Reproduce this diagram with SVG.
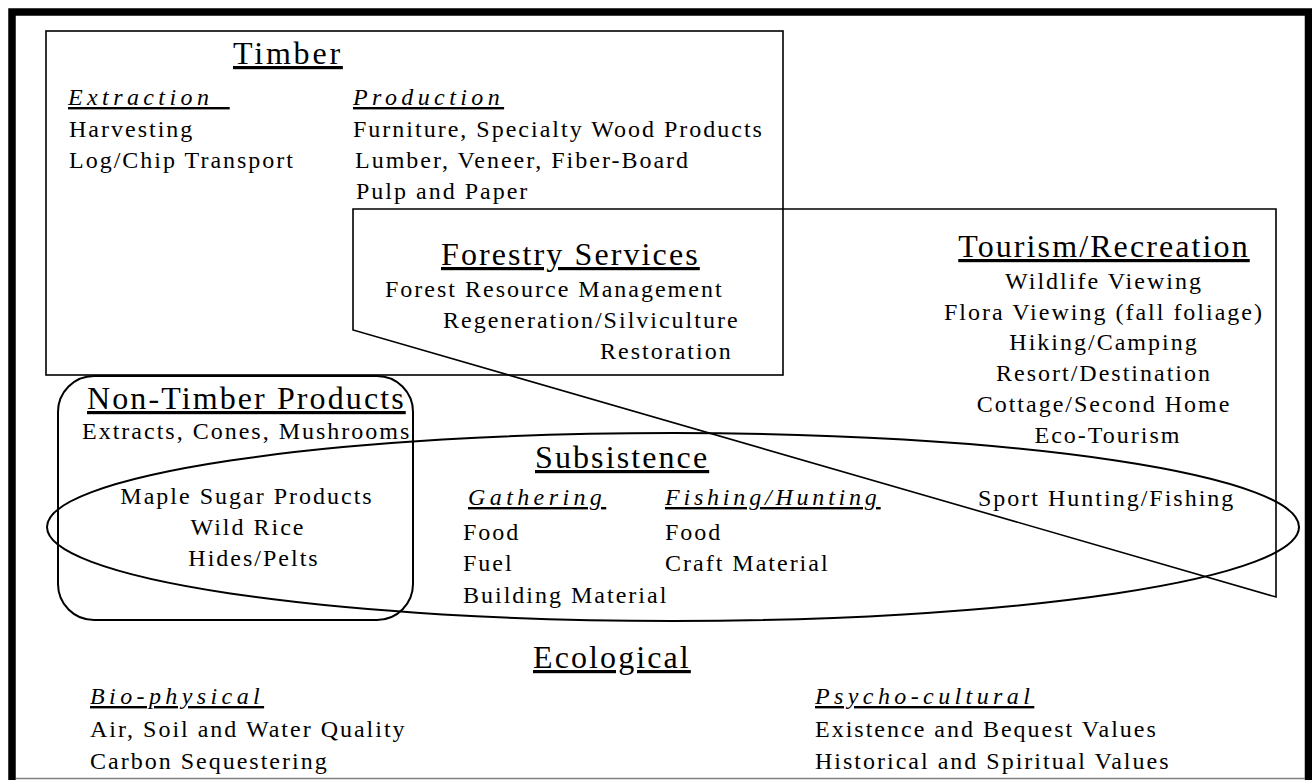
<svg xmlns="http://www.w3.org/2000/svg" width="1312" height="780" viewBox="0 0 1312 780">
  <style>
    text { font-family: "Liberation Serif", "Times New Roman", serif; fill: #000; }
    .head { font-size: 32px; letter-spacing: 2.1px; text-decoration: underline; }
    .sub { font-size: 24px; font-style: italic; letter-spacing: 4.4px; text-decoration: underline; }
    .item { font-size: 24px; letter-spacing: 2px; }
    .mid { text-anchor: middle; }
    .shape { fill: none; stroke: #000; stroke-width: 1.6; }
    .oval { fill: none; stroke: #000; stroke-width: 2; }
  </style>

  <rect width="1312" height="780" fill="#fff"/>

  <!-- outer frame, open at the bottom -->
  <path d="M12,784 V12 H1308.5 V784" fill="none" stroke="#000" stroke-width="7.5" stroke-linejoin="miter"/>
  <line x1="16" y1="778.5" x2="1305" y2="778.5" stroke="#808080" stroke-width="1.5"/>

  <!-- outlines of the overlapping sectors -->
  <g id="connectors">
    <rect id="timber-box" class="shape" x="46" y="31" width="737" height="344"/>
    <polygon id="services-box" class="shape" points="353,209 1276,209 1276,597 353,330"/>
    <rect id="nontimber-box" class="oval" x="58" y="376" width="355" height="244" rx="36" ry="36"/>
    <ellipse id="subsistence-oval" class="oval" cx="673" cy="527" rx="626" ry="94"/>
  </g>

  <g id="timber">
    <text class="head" x="233" y="64" style="letter-spacing:2.8px">Timber</text>
    <text class="sub" x="68" y="105">Extraction_</text>
    <text class="item" x="69" y="137">Harvesting</text>
    <text class="item" x="69" y="168">Log/Chip Transport</text>
    <text class="sub" x="353" y="105">Production</text>
    <text class="item" x="353" y="137">Furniture, Specialty Wood Products</text>
    <text class="item" x="355" y="168">Lumber, Veneer, Fiber-Board</text>
    <text class="item" x="356" y="199">Pulp and Paper</text>
  </g>

  <g id="forestry-services">
    <text class="head" x="441" y="265">Forestry Services</text>
    <text class="item" x="385" y="297">Forest Resource Management</text>
    <text class="item" x="443" y="328">Regeneration/Silviculture</text>
    <text class="item" x="600" y="359">Restoration</text>
  </g>

  <g id="tourism-recreation">
    <text class="head mid" x="1104" y="257">Tourism/Recreation</text>
    <text class="item mid" x="1104" y="289">Wildlife Viewing</text>
    <text class="item mid" x="1104" y="320">Flora Viewing (fall foliage)</text>
    <text class="item mid" x="1104" y="350">Hiking/Camping</text>
    <text class="item mid" x="1104" y="381">Resort/Destination</text>
    <text class="item mid" x="1104" y="412">Cottage/Second Home</text>
    <text class="item mid" x="1108" y="443">Eco-Tourism</text>
    <text class="item" x="978" y="506">Sport Hunting/Fishing</text>
  </g>

  <g id="non-timber-products">
    <text class="head" x="87" y="409">Non-Timber Products</text>
    <text class="item" x="82" y="439">Extracts, Cones, Mushrooms</text>
    <text class="item mid" x="247" y="504">Maple Sugar Products</text>
    <text class="item mid" x="248" y="535">Wild Rice</text>
    <text class="item mid" x="254" y="566">Hides/Pelts</text>
  </g>

  <g id="subsistence">
    <text class="head" x="535" y="468">Subsistence</text>
    <text class="sub" x="468" y="505">Gathering</text>
    <text class="item" x="463" y="540">Food</text>
    <text class="item" x="463" y="571">Fuel</text>
    <text class="item" x="463" y="603">Building Material</text>
    <text class="sub" x="665" y="505" style="letter-spacing:3.8px">Fishing/Hunting</text>
    <text class="item" x="665" y="540">Food</text>
    <text class="item" x="665" y="571">Craft Material</text>
  </g>

  <g id="ecological">
    <text class="head" x="533" y="668">Ecological</text>
    <text class="sub" x="90" y="704">Bio-physical</text>
    <text class="item" x="90" y="737">Air, Soil and Water Quality</text>
    <text class="item" x="90" y="769">Carbon Sequestering</text>
    <text class="sub" x="815" y="704">Psycho-cultural</text>
    <text class="item" x="815" y="737">Existence and Bequest Values</text>
    <text class="item" x="815" y="769">Historical and Spiritual Values</text>
  </g>
</svg>
